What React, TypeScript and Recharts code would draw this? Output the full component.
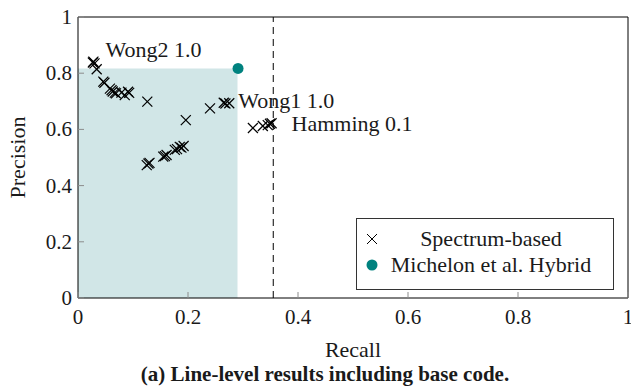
import { ScatterChart, Scatter, XAxis, YAxis, ReferenceArea, ReferenceLine, Legend } from 'recharts';

// spectrum-based configurations (recall, precision)
const spectrumRecall = [
  0.027, 0.028, 0.030, 0.034, 0.046, 0.048, 0.058, 0.061, 0.063, 0.067, 0.069, 0.079, 0.085, 0.091, 0.093,
  0.126, 0.196, 0.240, 0.265, 0.268, 0.275,
  0.125, 0.128, 0.130, 0.155, 0.158, 0.161, 0.176, 0.180, 0.185, 0.188, 0.192,
  0.318, 0.336, 0.345, 0.349, 0.352,
];
const spectrumPrecision = [
  0.838, 0.841, 0.835, 0.814, 0.770, 0.766, 0.745, 0.740, 0.735, 0.731, 0.728, 0.731, 0.722, 0.734, 0.730,
  0.699, 0.633, 0.675, 0.695, 0.692, 0.693,
  0.473, 0.478, 0.481, 0.503, 0.505, 0.509, 0.527, 0.530, 0.538, 0.535, 0.541,
  0.605, 0.612, 0.615, 0.620, 0.622,
];

const hybridRecall = [0.291];
const hybridPrecision = [0.817];

const noteNames = ['Wong2 1.0', 'Wong1 1.0', 'Hamming 0.1'];
const noteRecall = [0.028, 0.275, 0.352];
const notePrecision = [0.841, 0.693, 0.622];

const xTicks = [0, 0.2, 0.4, 0.6, 0.8, 1];
const yTicks = [0, 0.2, 0.4, 0.6, 0.8, 1];

const shadeRecall = 0.29;
const shadePrecision = 0.817;
const dashedRecall = 0.355;

const spectrum = spectrumRecall.map((x, i) => ({ x, y: spectrumPrecision[i] }));
const hybrid = hybridRecall.map((x, i) => ({ x, y: hybridPrecision[i] }));
const notes = noteNames.map((name, i) => ({ name, x: noteRecall[i], y: notePrecision[i] }));

// pixel nudges for the annotation text
const noteOffset: Record<string, { dx: number; dy: number }> = {
  'Wong2 1.0': { dx: 12, dy: -12 },
  'Wong1 1.0': { dx: 9, dy: -3 },
  'Hamming 0.1': { dx: 20, dy: 0 },
};

const FONT = '"Liberation Serif", "DejaVu Serif", serif';
const TEAL = '#00827f';
const TICK = '#8c8c8c';
const TEXT = '#1a1a1a';
const serif = { fontFamily: FONT };

const fmt = (v: number) => (v === 0 || v === 1 ? String(v) : v.toFixed(1));

const BottomTick = (props: any) => {
  const { x, y, payload } = props;
  return (
    <g>
      <line x1={x} x2={x} y1={y} y2={y - 6} stroke={TICK} />
      <text x={x} y={y + 19} textAnchor="middle" dominantBaseline="central" fontSize={21} style={serif} fill={TEXT}>
        {fmt(payload.value)}
      </text>
    </g>
  );
};

const TopTick = (props: any) => {
  const { x, y } = props;
  return <line x1={x} x2={x} y1={y} y2={y + 6} stroke={TICK} />;
};

const LeftTick = (props: any) => {
  const { x, y, payload } = props;
  return (
    <g>
      <line x1={x} x2={x + 6} y1={y} y2={y} stroke={TICK} />
      <text x={x - 6} y={y} textAnchor="end" dominantBaseline="central" fontSize={21} style={serif} fill={TEXT}>
        {fmt(payload.value)}
      </text>
    </g>
  );
};

const RightTick = (props: any) => {
  const { x, y } = props;
  return <line x1={x} x2={x - 6} y1={y} y2={y} stroke={TICK} />;
};

const Cross = (props: any) => {
  const { cx, cy } = props;
  const r = 5;
  return (
    <g stroke="#000" strokeWidth={1.2}>
      <line x1={cx - r} y1={cy - r} x2={cx + r} y2={cy + r} />
      <line x1={cx - r} y1={cy + r} x2={cx + r} y2={cy - r} />
    </g>
  );
};

const Dot = (props: any) => <circle cx={props.cx} cy={props.cy} r={5.5} fill={TEAL} />;

const Note = (props: any) => {
  const { cx, cy, payload } = props;
  const off = noteOffset[payload.name] || { dx: 10, dy: 0 };
  return (
    <text x={cx + off.dx} y={cy + off.dy} dominantBaseline="central" fontSize={22} style={serif} fill={TEXT}>
      {payload.name}
    </text>
  );
};

const LegendBox = (props: any) => {
  const items = (props.payload || [])
    .filter((p: any) => p.type !== 'none')
    .sort((a: any, b: any) => (a.type === 'cross' ? -1 : 1) - (b.type === 'cross' ? -1 : 1));
  return (
    <div
      style={{
        border: '1px solid #333',
        background: '#fff',
        fontFamily: FONT,
        fontSize: 22,
        color: TEXT,
        padding: '7px 0 4px 0',
        boxSizing: 'border-box',
        height: '100%',
      }}
    >
      {items.map((it: any) => (
        <div key={it.value} style={{ display: 'flex', alignItems: 'center', height: 26, paddingLeft: 8 }}>
          <svg width={16} height={16} style={{ flex: 'none' }}>
            {it.type === 'circle' ? (
              <circle cx={7} cy={8} r={5.5} fill={TEAL} />
            ) : (
              <g stroke="#000">
                <line x1={2} y1={3} x2={12} y2={13} />
                <line x1={2} y1={13} x2={12} y2={3} />
              </g>
            )}
          </svg>
          <span style={{ flex: 1, textAlign: 'center', paddingRight: 12, whiteSpace: 'nowrap' }}>{it.value}</span>
        </div>
      ))}
    </div>
  );
};

export default function App() {
  return (
    <div style={{ position: 'relative', width: 631, height: 386, background: '#fff' }}>
      <style>{'body{margin:0;background:#fff}'}</style>
      <ScatterChart width={631} height={386} margin={{ top: 16, right: 2, bottom: 87, left: 77 }}>
        <XAxis
          xAxisId={0}
          type="number"
          dataKey="x"
          domain={[0, 1]}
          ticks={xTicks}
          height={1}
          tickSize={0}
          tickMargin={0}
          tickLine={false}
          axisLine={{ stroke: '#000' }}
          tick={<BottomTick />}
          interval={0}
          label={{
            content: (p: any) => {
              const vb = p.viewBox;
              return (
                <g style={serif} fill={TEXT}>
                  <text x={vb.x + vb.width / 2} y={vb.y + 51} textAnchor="middle" dominantBaseline="central" fontSize={22}>
                    Recall
                  </text>
                  <text x={325} y={vb.y + 76} textAnchor="middle" dominantBaseline="central" fontSize={21} fontWeight="bold">
                    (a) Line-level results including base code.
                  </text>
                </g>
              );
            },
          }}
        />
        <XAxis
          xAxisId="top"
          orientation="top"
          type="number"
          dataKey="x"
          domain={[0, 1]}
          ticks={xTicks}
          height={1}
          tickSize={0}
          tickMargin={0}
          tickLine={false}
          axisLine={{ stroke: '#000' }}
          tick={<TopTick />}
          interval={0}
        />
        <YAxis
          yAxisId={0}
          type="number"
          dataKey="y"
          domain={[0, 1]}
          ticks={yTicks}
          width={1}
          tickSize={0}
          tickMargin={0}
          tickLine={false}
          axisLine={{ stroke: '#000' }}
          tick={<LeftTick />}
          interval={0}
          label={{
            content: (p: any) => {
              const vb = p.viewBox;
              const cx = vb.x + vb.width - 61;
              const cy = vb.y + vb.height / 2;
              return (
                <text
                  x={cx}
                  y={cy}
                  transform={`rotate(-90 ${cx} ${cy})`}
                  textAnchor="middle"
                  dominantBaseline="central"
                  fontSize={22}
                  style={serif}
                  fill={TEXT}
                >
                  Precision
                </text>
              );
            },
          }}
        />
        <YAxis
          yAxisId="right"
          orientation="right"
          type="number"
          dataKey="y"
          domain={[0, 1]}
          ticks={yTicks}
          width={1}
          tickSize={0}
          tickMargin={0}
          tickLine={false}
          axisLine={{ stroke: '#000' }}
          tick={<RightTick />}
          interval={0}
        />
        <ReferenceArea
          x1={0}
          x2={shadeRecall}
          y1={0}
          y2={shadePrecision}
          fill="#d1e6e7"
          fillOpacity={1}
          stroke="none"
        />
        <ReferenceLine x={dashedRecall} stroke="#000" strokeDasharray="7 5" />
        <Legend
          layout="vertical"
          align="center"
          verticalAlign="middle"
          content={<LegendBox />}
          wrapperStyle={{ left: 356, top: 218, width: 258, height: 72 }}
        />
        <Scatter name="Spectrum-based" data={spectrum} shape={<Cross />} legendType="cross" fill="#000" isAnimationActive={false} />
        <Scatter name="Michelon et al. Hybrid" data={hybrid} shape={<Dot />} legendType="circle" fill={TEAL} isAnimationActive={false} />
        <Scatter name="notes" data={notes} shape={<Note />} legendType="none" isAnimationActive={false} />
      </ScatterChart>
    </div>
  );
}
